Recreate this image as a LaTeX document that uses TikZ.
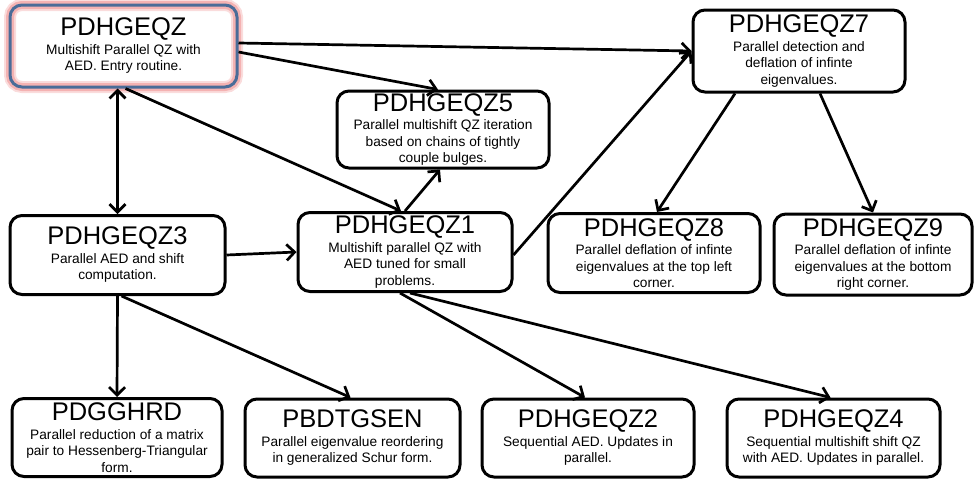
\documentclass[tikz,border=0pt]{standalone}
\usepackage{fontspec}
\setmainfont{Liberation Sans}
\usepackage{tikz}
\usetikzlibrary{arrows.meta}
\usetikzlibrary{calc}
\definecolor{entryblue}{RGB}{74,108,152}
\definecolor{entryglow}{RGB}{244,178,178}
\tikzstyle{arrow} = [line width=2.7pt,->,>={Straight Barb[length=8pt,width=16pt]}]
\tikzstyle{box} = [draw, line width=3pt, rounded corners=12pt, minimum width=212pt, minimum height=79pt, align=center, inner sep=2pt, font=\fontsize{13.7}{16.5}\selectfont]
\tikzstyle{entry} = [box, draw=entryblue, preaction={draw=entryglow!45, line width=12pt}, preaction={draw=entryglow, line width=8pt}]
\newcommand{\ttl}[1]{{\fontsize{25.5}{27}\selectfont #1}\\[2pt]}

\begin{document}
\begin{tikzpicture}[x=1pt,y=-1pt]
\useasboundingbox (0,0) rectangle (975,479);

\node[entry, minimum width=227pt, minimum height=82pt] (gz) at (123.5,46) {\ttl{PDHGEQZ}Multishift Parallel QZ with\\AED. Entry routine.};
\node[box, minimum height=77pt] (gz5) at (443,129.5) {\ttl{PDHGEQZ5}Parallel multishift QZ iteration\\based on chains of tightly\\couple bulges.};
\node[box, minimum height=82pt] (gz7) at (799,51) {\ttl{PDHGEQZ7}Parallel detection and\\deflation of infinte\\eigenvalues.};

\node[box, minimum width=215pt] (gz3) at (117.5,255) {\ttl{PDHGEQZ3}Parallel AED and shift\\computation.};
\node[box, minimum width=214pt] (gz1) at (405,252) {\ttl{PDHGEQZ1}Multishift parallel QZ with\\AED tuned for small\\problems.};
\node[box] (gz8) at (654,253) {\ttl{PDHGEQZ8}Parallel deflation of infinte\\eigenvalues at the top left\\corner.};
\node[box, minimum width=198pt, minimum height=81pt] (gz9) at (873,254.5) {\ttl{PDHGEQZ9}Parallel deflation of infinte\\eigenvalues at the bottom\\right corner.};

\node[box, minimum width=210pt, minimum height=78pt] (gghrd) at (117,437.5) {\ttl{PDGGHRD}Parallel reduction of a matrix\\pair to Hessenberg-Triangular\\form.};
\node[box, minimum width=215pt, minimum height=78pt] (tgsen) at (352.5,438) {\ttl{PBDTGSEN}Parallel eigenvalue reordering\\in generalized Schur form.};
\node[box, minimum height=78pt] (gz2) at (588,438) {\ttl{PDHGEQZ2}Sequential AED. Updates in\\parallel.};
\node[box, minimum width=213pt, minimum height=78pt] (gz4) at (833.5,438) {\ttl{PDHGEQZ4}Sequential multishift shift QZ\\with AED. Updates in parallel.};

\draw[arrow,<->] (gz3.north) -- (gz3.north |- gz.south);
\draw[arrow] ([yshift=-6pt]gz.east) -- ([xshift=-5pt]gz5.north);
\draw[arrow] ([yshift=3pt]gz.east) -- (gz7.west);
\draw[arrow] ([xshift=2pt]gz.south) -- ([xshift=-4pt]gz1.north);

\draw[arrow] (gz3.east) -- (gz1.west);
\draw[arrow] (gz1.north) -- ([xshift=-3pt]gz5.south);
\draw[arrow] ([yshift=-3pt]gz1.east) -- (gz7.west);

\draw[arrow] ([xshift=-64pt]gz7.south) -- ([xshift=3pt]gz8.north);
\draw[arrow] ([xshift=21pt]gz7.south) -- (gz9.north);

\draw[arrow] (gz3.south) -- (gghrd.north);
\draw[arrow] ([xshift=4pt]gz3.south) -- ([xshift=-2pt]tgsen.north);
\draw[arrow] ([xshift=-5pt]gz1.south) -- ([xshift=-3pt]gz2.north);
\draw[arrow] ([xshift=5pt]gz1.south) -- ([xshift=-3pt]gz4.north);
\end{tikzpicture}
\end{document}
